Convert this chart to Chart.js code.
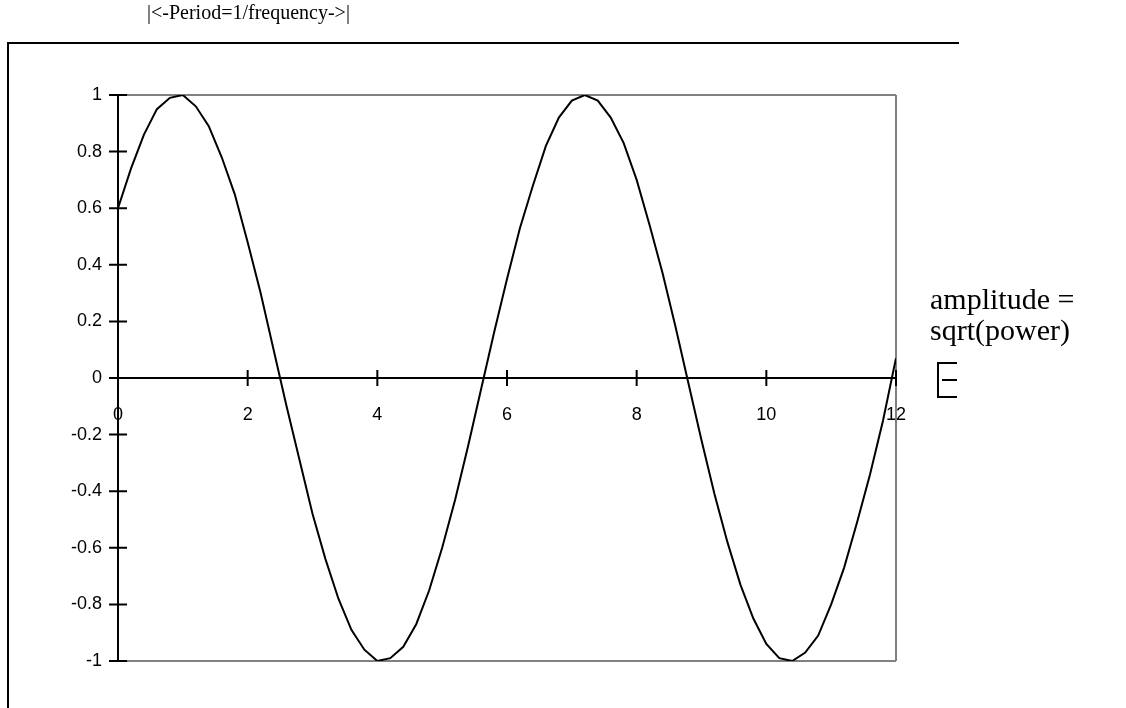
<!DOCTYPE html>
<html>
<head>
<meta charset="utf-8">
<script src="https://cdn.jsdelivr.net/npm/chart.js@4.4.0/dist/chart.umd.min.js"></script>
<style>
  html, body { margin: 0; padding: 0; background: #fff; }
  #wrap { position: relative; width: 1126px; height: 708px; overflow: hidden; }
  #frame { position: absolute; left: 7px; top: 42px; width: 950px; height: 700px;
           border-top: 2px solid #000; border-left: 2px solid #000; }
  #chart { position: absolute; left: 0; top: 0; }
  .note { position: absolute; font-family: "Liberation Serif", "Times New Roman", serif;
          color: #000; white-space: nowrap; }
  #period { left: 147px; top: 0px; font-size: 20px; line-height: 24px; }
  #amp { left: 930px; top: 283px; font-size: 30px; line-height: 31px; }
  #legendStub { position: absolute; left: 937px; top: 362px; width: 18px; height: 32px;
                border-left: 2px solid #000; border-top: 2px solid #000; border-bottom: 2px solid #000; }
  #legendStub div { position: absolute; left: 3px; top: 15px; width: 15px; height: 2px; background: #000; }
</style>
</head>
<body>
<div id="wrap">
  <div id="frame"></div>
  <canvas id="chart" width="1126" height="708"></canvas>
  <div class="note" id="period">|&lt;-Period=1/frequency-&gt;|</div>
  <div class="note" id="amp">amplitude =<br>sqrt(power)</div>
  <div id="legendStub"><div></div></div>
</div>
<script>
// x positions of the plotted samples
const xValues = [
  0, 0.2, 0.4, 0.6, 0.8, 1, 1.2, 1.4, 1.6, 1.8,
  2, 2.2, 2.4, 2.6, 2.8, 3, 3.2, 3.4, 3.6, 3.8,
  4, 4.2, 4.4, 4.6, 4.8, 5, 5.2, 5.4, 5.6, 5.8,
  6, 6.2, 6.4, 6.6, 6.8, 7, 7.2, 7.4, 7.6, 7.8,
  8, 8.2, 8.4, 8.6, 8.8, 9, 9.2, 9.4, 9.6, 9.8,
  10, 10.2, 10.4, 10.6, 10.8, 11, 11.2, 11.4, 11.6, 11.8,
  12
];

// values
const yValues = [
  0.60, 0.74, 0.86, 0.95, 0.99, 1.00, 0.96, 0.89, 0.78, 0.65,
  0.48, 0.30, 0.10, -0.10, -0.29, -0.48, -0.64, -0.78, -0.89, -0.96,
  -1.00, -0.99, -0.95, -0.87, -0.75, -0.60, -0.43, -0.24, -0.04, 0.16,
  0.35, 0.53, 0.68, 0.82, 0.92, 0.98, 1.00, 0.98, 0.92, 0.83,
  0.70, 0.54, 0.37, 0.18, -0.02, -0.22, -0.41, -0.58, -0.73, -0.85,
  -0.94, -0.99, -1.00, -0.97, -0.91, -0.80, -0.67, -0.51, -0.34, -0.15,
  0.07
];

const xTicks = [0, 2, 4, 6, 8, 10, 12];
const yTicks = [1, 0.8, 0.6, 0.4, 0.2, 0, -0.2, -0.4, -0.6, -0.8, -1];
const yTickLabels = ['1', '0.8', '0.6', '0.4', '0.2', '0', '-0.2', '-0.4', '-0.6', '-0.8', '-1'];

const points = xValues.map((x, i) => ({ x: x, y: yValues[i] }));

// short tick marks that cross both axes
const crossTicks = {
  id: 'crossTicks',
  afterDraw(chart) {
    const { ctx, scales: { x, y } } = chart;
    const x0 = x.getPixelForValue(0);
    const y0 = y.getPixelForValue(0);
    ctx.save();
    ctx.strokeStyle = '#000';
    ctx.lineWidth = 2;
    ctx.beginPath();
    yTicks.forEach(v => {
      const py = y.getPixelForValue(v);
      ctx.moveTo(x0 - 9, py);
      ctx.lineTo(x0 + 9, py);
    });
    xTicks.forEach(v => {
      const px = x.getPixelForValue(v);
      ctx.moveTo(px, y0 - 8);
      ctx.lineTo(px, y0 + 8);
    });
    ctx.stroke();
    ctx.restore();
  }
};

const tickFont = { family: '"Liberation Sans", Arial, sans-serif', size: 18 };

new Chart(document.getElementById('chart'), {
  type: 'line',
  data: {
    datasets: [{
      label: 'signal',
      data: points,
      borderColor: '#000',
      borderWidth: 2,
      pointRadius: 0,
      tension: 0,
      fill: false
    }]
  },
  options: {
    responsive: false,
    animation: false,
    layout: { padding: { top: 95, right: 230, bottom: 47, left: 0 } },
    plugins: { legend: { display: false }, tooltip: { enabled: false } },
    scales: {
      x: {
        type: 'linear',
        position: { y: 0 },
        min: 0,
        max: 12,
        afterBuildTicks: s => { s.ticks = xTicks.map(v => ({ value: v })); },
        afterFit: s => { s.height = 0; },
        ticks: { color: '#000', font: tickFont, padding: 26, maxRotation: 0,
                 callback: v => String(v) },
        grid: {
          drawTicks: false,
          lineWidth: 2,
          color: c => (c.tick && c.tick.value === 12 ? '#808080' : 'rgba(0,0,0,0)')
        },
        border: { color: '#000', width: 2 }
      },
      y: {
        type: 'linear',
        position: 'left',
        min: -1,
        max: 1,
        afterBuildTicks: s => { s.ticks = yTicks.map(v => ({ value: v })); },
        afterFit: s => { s.width = 118; },
        ticks: { color: '#000', font: tickFont, padding: 16,
                 callback: (v, i) => yTickLabels[yTicks.indexOf(v)] },
        grid: {
          drawTicks: false,
          lineWidth: 2,
          color: c => (c.tick && Math.abs(c.tick.value) === 1 ? '#808080' : 'rgba(0,0,0,0)')
        },
        border: { color: '#000', width: 2 }
      }
    }
  },
  plugins: [crossTicks]
});
</script>
</body>
</html>
